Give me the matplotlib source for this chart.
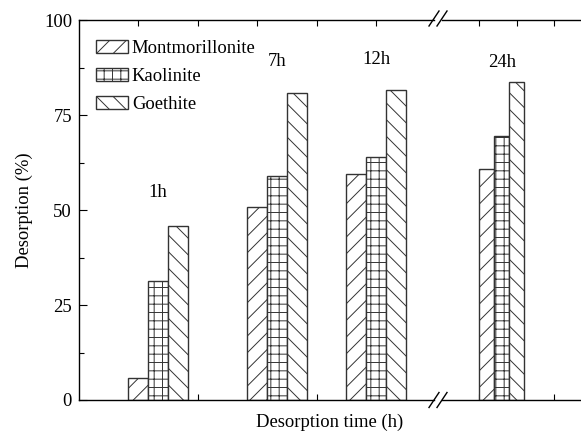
import matplotlib
matplotlib.use("Agg")
import matplotlib.pyplot as plt
from matplotlib.lines import Line2D

plt.rcParams['font.family'] = ['Liberation Serif', 'DejaVu Serif']
plt.rcParams['hatch.linewidth'] = 0.7
FS = 13.4

# data
minerals = ['Montmorillonite', 'Kaolinite', 'Goethite']
hatches = ['//', '++', '\\\\']
times_left = [1, 7, 12]
times_right = [24]
time_labels_left = ['1h', '7h', '12h']
time_labels_right = ['24h']
montmorillonite = [5.8, 50.8, 59.5, 60.8]
kaolinite = [31.3, 58.9, 64.0, 69.5]
goethite = [45.8, 80.8, 81.6, 83.7]
label_y_left = [54.5, 89.0, 89.5]
label_y_right = [88.7]
series = [montmorillonite, kaolinite, goethite]

W, H = 581, 437
fig = plt.figure(figsize=(W / 100, H / 100), dpi=100)


def px(x0, y0, x1, y1):
    # pixel box (top-left origin) -> figure fraction rect
    return [x0 / W, 1 - y1 / H, (x1 - x0) / W, (y1 - y0) / H]


ax1 = fig.add_axes(px(79, 20, 434, 400))
ax2 = fig.add_axes(px(442, 20, 581, 400))

edge = '#333333'
for ax, xs, idx in [(ax1, times_left, slice(0, 3)), (ax2, times_right, slice(3, 4))]:
    for k, (vals, hatch, name) in enumerate(zip(series, hatches, minerals)):
        ax.bar([x + (k - 1) for x in xs], vals[idx], width=1.0, bottom=0,
               facecolor='white', edgecolor=edge, linewidth=1.0,
               hatch=hatch, label=name, zorder=2)

for x, y, t in zip(times_left, label_y_left, time_labels_left):
    ax1.text(x, y, t, ha='center', va='center', fontsize=FS)
for x, y, t in zip(times_right, label_y_right, time_labels_right):
    ax2.text(x, y, t, ha='center', va='center', fontsize=FS)

ax1.set_xlim(-3, 14.93)
ax2.set_xlim(20, 29.27)
for ax in (ax1, ax2):
    ax.set_ylim(0, 100)
    for s in ax.spines.values():
        s.set_linewidth(1.0)
    ax.tick_params(axis='x', direction='in', length=4, width=0.8,
                   top=True, bottom=True, labelbottom=False)

ax1.set_xticks([0, 3, 6, 9, 12])
ax2.set_xticks([22.5, 25, 27.5])

ax1.spines['right'].set_visible(False)
ax2.spines['left'].set_visible(False)
ax2.spines['right'].set_visible(False)
ax2.tick_params(axis='y', left=False, labelleft=False)

ax1.set_yticks([0, 25, 50, 75, 100])
ax1.set_yticks([12.5, 37.5, 62.5, 87.5], minor=True)
ax1.tick_params(axis='y', which='major', direction='in', length=6, width=0.8,
                pad=5, labelsize=FS)
ax1.tick_params(axis='y', which='minor', direction='in', length=3.5, width=0.8)
ax1.set_ylabel('Desorption (%)', fontsize=FS, labelpad=8)

fig.text(330 / W, 1 - 422 / H, 'Desorption time (h)', ha='center', va='center',
         fontsize=FS)

# break marks
for yb in (18.5, 400):
    for xb in (434, 442):
        fig.add_artist(Line2D([(xb - 5) / W, (xb + 5) / W],
                              [1 - (yb + 7.5) / H, 1 - (yb - 7.5) / H],
                              color='black', lw=1.0))

ax1.legend(loc='upper left', bbox_to_anchor=(0.048, 0.948), frameon=False,
           fontsize=FS, borderpad=0, borderaxespad=0, handlelength=1.7,
           handleheight=0.7, handletextpad=0.22, labelspacing=0.6)

fig.savefig('out.png', dpi=100)
